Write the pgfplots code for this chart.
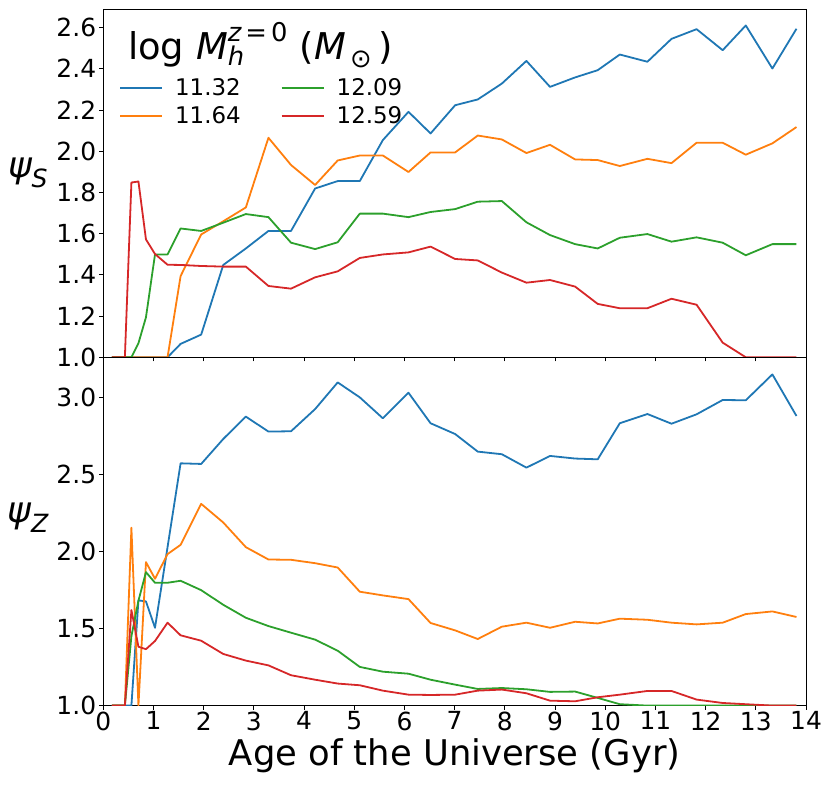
\documentclass[border=0pt]{standalone}
\usepackage{pgfplots}
\pgfplotsset{compat=1.18}
\usepackage{amsmath}
\usepackage{fontspec}
\setmainfont{DejaVu Sans}
\definecolor{cblue}{HTML}{1F77B4}
\definecolor{corange}{HTML}{FF7F0E}
\definecolor{cgreen}{HTML}{2CA02C}
\definecolor{cred}{HTML}{D62728}
\pgfplotsset{
  panel/.style={
    scale only axis, width=702.7bp, height=348.3bp,
    xmin=0, xmax=14, xtick={0,1,...,14},
    tick align=outside, xtick pos=bottom, ytick pos=left,
    major tick length=4bp,
    axis line style={line width=0.8bp, black},
    every tick/.style={line width=0.8bp, black},
    tick label style={font=\fontsize{25}{30}\selectfont},
    xticklabel style={inner sep=2bp},
    yticklabel style={inner sep=3bp},
    /pgf/number format/assume math mode=true,
    yticklabel style={/pgf/number format/.cd, fixed, fixed zerofill, precision=1},
    every axis plot/.append style={line width=1.8bp, line join=round},
    clip=true,
    every axis y label/.style={font=\fontsize{36}{42}\selectfont, inner sep=0pt, anchor=center, rotate=0},
  }
}
\begin{document}
\begin{tikzpicture}[x=1bp,y=1bp]
\useasboundingbox (0,0) rectangle (831,786);
% ---------------- top panel ----------------
\begin{axis}[panel, at={(103.3bp,777bp)}, anchor=north west,
  ymin=1, ymax=2.69, ytick={1.0,1.2,...,2.61}, xticklabels={},
  ylabel={{\itshape ψ}$_{\text{\itshape S}}$},
  ylabel style={at={(rel axis cs:-0.107,0.53)}},
  legend columns=2,
  legend style={draw=none, fill=none, font=\fontsize{23}{27}\selectfont,
    at={(rel axis cs:0.018,0.8115)}, anchor=north west,
    /tikz/every odd column/.append style={column sep=10bp},
    /tikz/every even column/.append style={column sep=38bp},
    row sep=5.2bp},
  legend image code/.code={\draw[#1, line width=2bp] (0bp,0bp) -- (42bp,0bp);},
]
\addplot[cblue, forget plot] coordinates {
(0.17,1.0)(0.43,1.0)(0.56,1.0)(0.70,1.0)(0.85,1.0)(1.03,1.0)(1.28,1.0)(1.54,1.065)(1.95,1.11)(2.39,1.448)(2.84,1.528)(3.29,1.613)(3.74,1.613)(4.22,1.819)(4.67,1.855)(5.11,1.855)(5.57,2.054)(6.08,2.191)(6.52,2.086)(7.01,2.223)(7.46,2.251)(7.94,2.328)(8.43,2.438)(8.90,2.312)(9.40,2.358)(9.85,2.393)(10.29,2.469)(10.84,2.434)(11.32,2.545)(11.82,2.592)(12.34,2.490)(12.80,2.610)(13.33,2.401)(13.81,2.594)};
\addplot[corange, forget plot] coordinates {
(0.17,1.0)(0.43,1.0)(0.56,1.0)(0.70,1.0)(0.85,1.0)(1.03,1.0)(1.28,1.0)(1.54,1.394)(1.95,1.596)(2.39,1.66)(2.84,1.727)(3.29,2.065)(3.74,1.933)(4.22,1.836)(4.67,1.955)(5.11,1.979)(5.57,1.979)(6.08,1.899)(6.52,1.994)(7.01,1.994)(7.46,2.076)(7.94,2.057)(8.43,1.991)(8.90,2.031)(9.40,1.960)(9.85,1.957)(10.29,1.928)(10.84,1.963)(11.32,1.942)(11.82,2.041)(12.34,2.041)(12.80,1.983)(13.33,2.038)(13.81,2.117)};
\addplot[cgreen, forget plot] coordinates {
(0.17,1.0)(0.43,1.0)(0.56,1.0)(0.70,1.068)(0.85,1.194)(1.03,1.499)(1.28,1.499)(1.54,1.625)(1.95,1.613)(2.39,1.653)(2.84,1.695)(3.29,1.680)(3.74,1.556)(4.22,1.525)(4.67,1.558)(5.11,1.697)(5.57,1.697)(6.08,1.680)(6.52,1.705)(7.01,1.719)(7.46,1.755)(7.94,1.758)(8.43,1.655)(8.90,1.593)(9.40,1.549)(9.85,1.528)(10.29,1.580)(10.84,1.598)(11.32,1.561)(11.82,1.582)(12.34,1.556)(12.80,1.495)(13.33,1.549)(13.81,1.549)};
\addplot[cred, forget plot] coordinates {
(0.17,1.0)(0.43,1.0)(0.56,1.848)(0.70,1.853)(0.85,1.572)(1.03,1.501)(1.28,1.449)(1.54,1.448)(1.95,1.443)(2.39,1.44)(2.84,1.44)(3.29,1.346)(3.74,1.333)(4.22,1.388)(4.67,1.417)(5.11,1.482)(5.57,1.499)(6.08,1.509)(6.52,1.537)(7.01,1.477)(7.46,1.470)(7.94,1.411)(8.43,1.362)(8.90,1.375)(9.40,1.343)(9.85,1.259)(10.29,1.238)(10.84,1.238)(11.32,1.284)(11.82,1.255)(12.34,1.071)(12.80,1.0)(13.33,1.0)(13.81,1.0)};
\addlegendimage{cblue}\addlegendentry{11.32}
\addlegendimage{cgreen}\addlegendentry{12.09}
\addlegendimage{corange}\addlegendentry{11.64}
\addlegendimage{cred}\addlegendentry{12.59}
\node[anchor=base west, font=\fontsize{37}{44}\selectfont, inner sep=0pt] at (rel axis cs:0.035,0.856)
  {log $\text{\itshape M}^{\text{\itshape z}\,\text{=}\,\text{0}}_{\text{\itshape h}}$ ($\text{\itshape M}_{\,\text{⊙}}$\,)};
\end{axis}
% ---------------- bottom panel ----------------
\begin{axis}[panel, at={(103.3bp,428.7bp)}, anchor=north west,
  ymin=1, ymax=3.26, ytick={1.0,1.5,...,3.01},
  ylabel={{\itshape ψ}$_{\text{\itshape Z}}$},
  ylabel style={at={(rel axis cs:-0.107,0.54)}},
  xlabel={Age of the Universe (Gyr)},
  xlabel style={font=\fontsize{35.5}{42}\selectfont, yshift=-2bp},
]
\addplot[cblue] coordinates {
(0.17,1.0)(0.43,1.0)(0.56,1.0)(0.70,1.683)(0.85,1.676)(1.03,1.505)(1.54,2.572)(1.95,2.568)(2.39,2.730)(2.84,2.875)(3.29,2.778)(3.74,2.780)(4.22,2.924)(4.67,3.097)(5.11,3.0)(5.57,2.864)(6.08,3.030)(6.52,2.832)(7.01,2.762)(7.46,2.648)(7.94,2.631)(8.43,2.544)(8.90,2.620)(9.40,2.603)(9.85,2.598)(10.29,2.832)(10.84,2.892)(11.32,2.829)(11.82,2.890)(12.34,2.983)(12.80,2.981)(13.33,3.149)(13.81,2.879)};
\addplot[corange] coordinates {
(0.17,1.0)(0.43,1.0)(0.56,2.154)(0.70,1.0)(0.85,1.931)(1.03,1.823)(1.28,1.983)(1.54,2.043)(1.95,2.309)(2.39,2.188)(2.84,2.028)(3.29,1.948)(3.74,1.946)(4.22,1.924)(4.67,1.896)(5.11,1.739)(5.57,1.715)(6.08,1.691)(6.52,1.536)(7.01,1.488)(7.46,1.432)(7.94,1.512)(8.43,1.538)(8.90,1.505)(9.40,1.544)(9.85,1.533)(10.29,1.564)(10.84,1.557)(11.32,1.538)(11.82,1.527)(12.34,1.538)(12.80,1.594)(13.33,1.611)(13.81,1.575)};
\addplot[cgreen] coordinates {
(0.17,1.0)(0.43,1.0)(0.56,1.45)(0.70,1.68)(0.85,1.866)(1.03,1.797)(1.28,1.797)(1.54,1.810)(1.95,1.749)(2.39,1.654)(2.84,1.570)(3.29,1.516)(3.74,1.473)(4.22,1.428)(4.67,1.356)(5.11,1.251)(5.57,1.220)(6.08,1.207)(6.52,1.168)(7.01,1.136)(7.46,1.108)(7.94,1.114)(8.43,1.106)(8.90,1.089)(9.40,1.091)(9.85,1.05)(10.29,1.009)(10.84,1.0)(11.32,1.0)(11.82,1.0)(12.34,1.0)(12.80,1.0)(13.33,1.0)(13.81,1.0)};
\addplot[cred] coordinates {
(0.17,1.0)(0.43,1.0)(0.56,1.620)(0.70,1.382)(0.85,1.366)(1.03,1.419)(1.28,1.538)(1.54,1.456)(1.95,1.421)(2.39,1.335)(2.84,1.292)(3.29,1.261)(3.74,1.197)(4.22,1.168)(4.67,1.143)(5.11,1.132)(5.57,1.097)(6.08,1.071)(6.52,1.069)(7.01,1.071)(7.46,1.097)(7.94,1.104)(8.43,1.08)(8.90,1.032)(9.40,1.028)(9.85,1.054)(10.29,1.071)(10.84,1.095)(11.32,1.095)(11.82,1.039)(12.34,1.017)(12.80,1.009)(13.33,1.0)(13.81,1.0)};
\end{axis}
\end{tikzpicture}
\end{document}
